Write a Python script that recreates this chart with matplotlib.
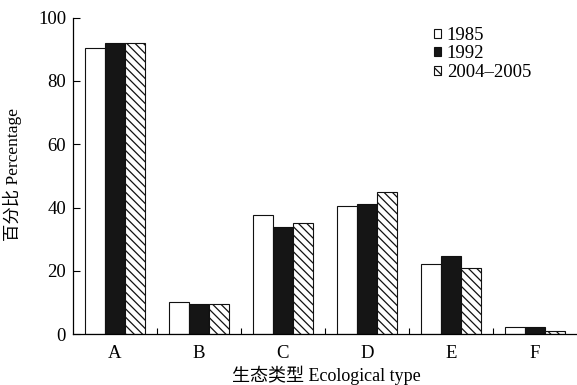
import numpy as np
import matplotlib.pyplot as plt

plt.rcParams['font.family'] = ['Liberation Serif', 'Noto Sans CJK SC']
plt.rcParams['hatch.linewidth'] = 0.9

# percentage of each ecological type in three survey periods
types = ['A', 'B', 'C', 'D', 'E', 'F']
years = ['1985', '1992', '2004\u20132005']
pct_1985 = [90.5, 10.3, 37.8, 40.6, 22.2, 2.4]
pct_1992 = [92.0, 9.5, 33.9, 41.2, 24.6, 2.4]
pct_2004 = [92.0, 9.5, 35.0, 44.9, 20.8, 1.1]

fig = plt.figure(figsize=(5.77, 3.85), dpi=100)
ax = fig.add_axes([0.1265, 0.1317, 0.8735, 0.8228])

x = np.arange(len(types))
w = 0.235
ax.bar(x - w, pct_1985, w, color='white', edgecolor='#111111', linewidth=0.8, label=years[0])
ax.bar(x, pct_1992, w, color='#151515', edgecolor='#111111', linewidth=0.8, label=years[1])
ax.bar(x + w, pct_2004, w, color='white', edgecolor='#111111', linewidth=0.8,
       hatch='\\\\\\\\', label=years[2])

ax.set_xlim(-0.5, 5.5)
ax.set_ylim(0, 100)
ax.set_yticks([0, 20, 40, 60, 80, 100])
ax.set_xticks(x)
ax.set_xticklabels(types)
ax.set_xticks(np.arange(0.5, 5, 1), minor=True)
ax.tick_params(axis='x', which='major', length=0, pad=8, labelsize=13.5)
ax.tick_params(axis='x', which='minor', direction='in', length=4, width=0.8)
ax.tick_params(axis='y', direction='in', length=5, width=0.8, pad=5, labelsize=13.5)

for s in ['top', 'right']:
    ax.spines[s].set_visible(False)
for s in ['left', 'bottom']:
    ax.spines[s].set_linewidth(0.9)

ax.set_ylabel('百分比 Percentage', fontsize=12.5)
ax.yaxis.set_label_coords(-0.101, 0.506)
ax.set_xlabel('生态类型 Ecological type', fontsize=13, va='top')
ax.xaxis.set_label_coords(0.502, -0.1)

ax.legend(loc='upper left', bbox_to_anchor=(0.752, 0.93), bbox_transform=fig.transFigure,
          frameon=False, fontsize=13.5, handlelength=0.38, handleheight=0.38,
          handletextpad=0.3, labelspacing=0.08, borderaxespad=0, borderpad=0)

fig.savefig('out.png', dpi=100)
